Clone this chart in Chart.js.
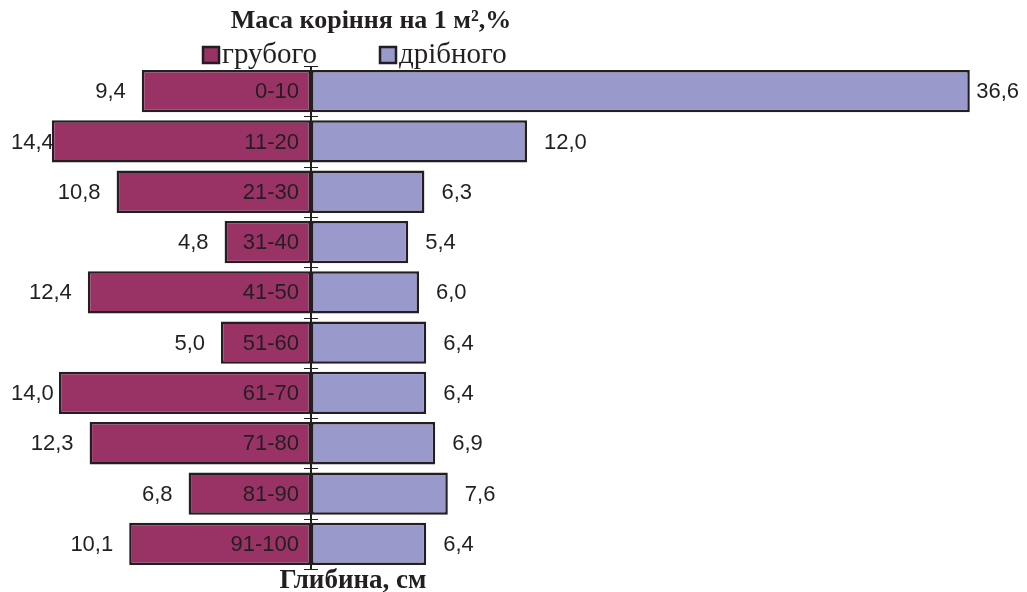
<!DOCTYPE html>
<html>
<head>
<meta charset="utf-8">
<script src="https://cdn.jsdelivr.net/npm/chart.js@4"></script>
<style>
  html, body { margin: 0; padding: 0; background: #fff; }
  #wrap { width: 1027px; height: 592px; position: relative; }
</style>
</head>
<body>
<div id="wrap"><canvas id="chart" width="1027" height="592"></canvas></div>
<script>
// depth categories (cm)
const depths = ['0-10', '11-20', '21-30', '31-40', '41-50', '51-60', '61-70', '71-80', '81-90', '91-100'];
// root mass, % per 1 m2
const coarse = [9.4, 14.4, 10.8, 4.8, 12.4, 5.0, 14.0, 12.3, 6.8, 10.1];
const fine = [36.6, 12.0, 6.3, 5.4, 6.0, 6.4, 6.4, 6.9, 7.6, 6.4];
const seriesNames = ['грубого', 'дрібного'];
const colors = ['#993366', '#9999cc'];
const edge = '#231f20';

const fmt = v => v.toFixed(1).replace('.', ',');

// axis line, ticks, labels, title, legend
const decor = {
    id: 'decor',
    afterDatasetsDraw(chart) {
        const { ctx, chartArea, scales } = chart;
        const x0 = scales.x.getPixelForValue(0);
        ctx.save();

        ctx.strokeStyle = edge;
        ctx.lineWidth = 2;
        ctx.beginPath();
        ctx.moveTo(x0, chartArea.top);
        ctx.lineTo(x0, chartArea.bottom);
        ctx.stroke();

        // boundary ticks
        ctx.lineWidth = 1;
        const step = (chartArea.bottom - chartArea.top) / depths.length;
        for (let i = 0; i <= depths.length; i++) {
            const y = Math.round(chartArea.top + i * step) + 0.5;
            ctx.beginPath();
            ctx.moveTo(x0 - 7, y);
            ctx.lineTo(x0 + 7, y);
            ctx.stroke();
        }

        ctx.fillStyle = edge;
        ctx.font = '22px "Liberation Sans", Arial, sans-serif';
        ctx.textBaseline = 'middle';
        depths.forEach((d, i) => {
            const y = scales.y.getPixelForValue(i) + 1;
            // depth label inside the left bar
            ctx.textAlign = 'right';
            ctx.fillText(d, x0 - 12, y);
            // coarse value
            const lx = scales.x.getPixelForValue(-coarse[i]) - 16;
            const lt = fmt(coarse[i]);
            const lw = ctx.measureText(lt).width;
            ctx.textAlign = 'left';
            ctx.fillText(lt, Math.max(11, lx - lw), y);
            // fine value
            const rx = scales.x.getPixelForValue(fine[i]) + 17;
            const rt = fmt(fine[i]);
            const rw = ctx.measureText(rt).width;
            ctx.fillText(rt, Math.min(rx, 1019 - rw), y);
        });

        // title
        ctx.textAlign = 'center';
        ctx.textBaseline = 'alphabetic';
        ctx.font = 'bold 26px "Liberation Serif", "Times New Roman", serif';
        ctx.fillText('Маса коріння на 1 м²,%', 371, 28);
        ctx.font = 'bold 27px "Liberation Serif", "Times New Roman", serif';
        ctx.fillText('Глибина, см', 353, 588);

        // legend
        ctx.font = '29px "Liberation Serif", "Times New Roman", serif';
        ctx.textAlign = 'left';
        const lx = [203, 380];
        seriesNames.forEach((n, i) => {
            ctx.fillStyle = colors[i];
            ctx.fillRect(lx[i], 47, 16, 16);
            ctx.strokeStyle = edge;
            ctx.lineWidth = 2.5;
            ctx.strokeRect(lx[i], 47, 16, 16);
            ctx.fillStyle = edge;
            ctx.fillText(n, lx[i] + 19, 63);
        });
        ctx.restore();
    }
};

new Chart(document.getElementById('chart'), {
    type: 'bar',
    data: {
        labels: depths,
        datasets: [
            { label: seriesNames[0], data: coarse.map(v => -v), backgroundColor: colors[0] },
            { label: seriesNames[1], data: fine, backgroundColor: colors[1] }
        ].map(ds => ({
            ...ds,
            borderColor: edge,
            borderWidth: 2.5,
            borderSkipped: false,
            barPercentage: 0.84,
            categoryPercentage: 1
        }))
    },
    options: {
        indexAxis: 'y',
        responsive: false,
        animation: false,
        layout: { padding: { left: 5, right: 14, top: 66, bottom: 23 } },
        plugins: { legend: { display: false }, tooltip: { enabled: false } },
        scales: {
            x: { display: false, stacked: true, min: -17, max: 39 },
            y: { display: false, stacked: true }
        }
    },
    plugins: [decor]
});
</script>
</body>
</html>
